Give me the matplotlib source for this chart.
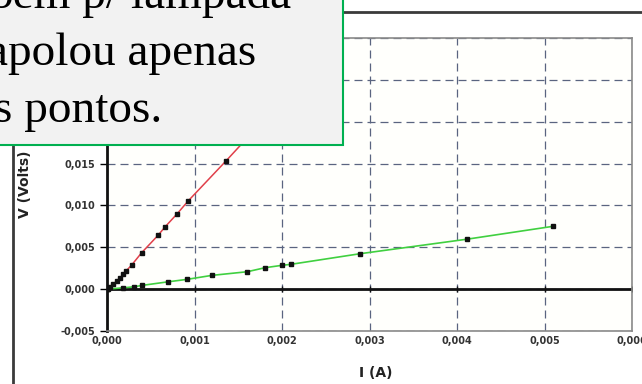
import matplotlib

matplotlib.use("Agg")
import matplotlib.pyplot as plt
from matplotlib.patches import Rectangle
from matplotlib.ticker import FuncFormatter

# measured points, I (A) vs V (Volts)
lamp_i = [0.0, 0.00001, 0.000034, 0.000072, 0.00011, 0.000149, 0.000187, 0.000217,
          0.000282, 0.000396, 0.000587, 0.000663, 0.000804, 0.000929, 0.001356, 0.0018]
lamp_v = [0.0, 0.00004, 0.00024, 0.00056, 0.00096, 0.00136, 0.00176, 0.00216,
          0.00288, 0.00435, 0.00647, 0.00743, 0.00903, 0.01055, 0.01527, 0.0203]

resistor_i = [0.0, 0.000187, 0.000309, 0.000396, 0.000701, 0.00091, 0.001196, 0.001603,
              0.001806, 0.001996, 0.002099, 0.002891, 0.00411, 0.005101]
resistor_v = [0.0, 0.00016, 0.00028, 0.00044, 0.00088, 0.00116, 0.00164, 0.00208,
              0.00256, 0.00284, 0.00296, 0.00423, 0.00596, 0.00751]

x_ticks = [0.0, 0.001, 0.002, 0.003, 0.004, 0.005, 0.006]
y_ticks = [-0.005, 0.0, 0.005, 0.010, 0.015, 0.020, 0.025, 0.030]

note_lines = ["bem p/ lâmpada", "apolou apenas", "s pontos."]

W, H = 642, 384


def comma_fmt(v, _pos):
    return f"{v:.3f}".replace(".", ",")


fig = plt.figure(figsize=(W / 100, H / 100), dpi=100)
fig.patch.set_facecolor("white")

# outer chart frame
fig.add_artist(Rectangle((13 / W, -0.5), 2.0, 1 - 12 / H + 0.5, transform=fig.transFigure,
                         fill=False, edgecolor="#3a3a3a", lw=2.0, zorder=1))

ax = fig.add_axes([107 / W, 53 / H, 525 / W, 293 / H])
ax.set_facecolor("#fffffc")
ax.set_xlim(x_ticks[0], x_ticks[-1])
ax.set_ylim(y_ticks[0], y_ticks[-1])
ax.set_xticks(x_ticks)
ax.set_yticks(y_ticks)
ax.xaxis.set_major_formatter(FuncFormatter(comma_fmt))
ax.yaxis.set_major_formatter(FuncFormatter(comma_fmt))

ax.grid(True, color="#5a6480", lw=0.9, linestyle=(0, (6.4, 4)))
ax.set_axisbelow(True)

for side in ("top", "right", "bottom"):
    ax.spines[side].set_color("#8a8a8a")
    ax.spines[side].set_linewidth(1.2)
ax.spines["left"].set_color("#111111")
ax.spines["left"].set_linewidth(2.0)

ax.tick_params(axis="x", length=0, pad=3.6, labelsize=7, labelcolor="#333333")
ax.tick_params(axis="y", length=5, width=1, pad=3.5, labelsize=7, labelcolor="#333333")
for lbl in ax.get_xticklabels() + ax.get_yticklabels():
    lbl.set_fontweight("bold")

# axis crossing at V = 0 with its tick marks
ax.axhline(0, color="#111111", lw=2.0, zorder=2)
ax.plot(x_ticks[1:], [0] * (len(x_ticks) - 1), "|", color="#111111", ms=5, mew=1, zorder=2)

ax.plot(lamp_i, lamp_v, color="#e0404a", lw=1.1, zorder=3)
ax.plot(resistor_i, resistor_v, color="#40d040", lw=1.2, zorder=3)
ax.plot(lamp_i, lamp_v, "s", color="#111111", ms=3.2, zorder=4)
ax.plot(resistor_i, resistor_v, "s", color="#111111", ms=3.2, zorder=4)

ax.set_xlabel("I (A)", fontsize=10, fontweight="bold", color="#222222")
ax.set_ylabel("V (Volts)", fontsize=10, fontweight="bold", color="#222222")
ax.xaxis.set_label_coords(0.512, (331 - 366) / 293)
ax.yaxis.set_label_coords((32 - 107) / 525, 0.5)

# text box of the slide covering the top left corner
fig.add_artist(Rectangle((-0.1, 1 - 145 / H), 343 / W + 0.1, 1.0, transform=fig.transFigure,
                         facecolor="#f2f2f2", edgecolor="#00b050", lw=1.5, zorder=5))
note_x = [-10.5, -12.8, -6.0]
note_base = [8, 65, 122]
for text, x_px, y_px in zip(note_lines, note_x, note_base):
    fig.text(x_px / W, 1 - y_px / H, text, family="Liberation Serif", fontsize=34,
             color="black", va="baseline", ha="left", zorder=6)

fig.savefig("out.png", dpi=100)
